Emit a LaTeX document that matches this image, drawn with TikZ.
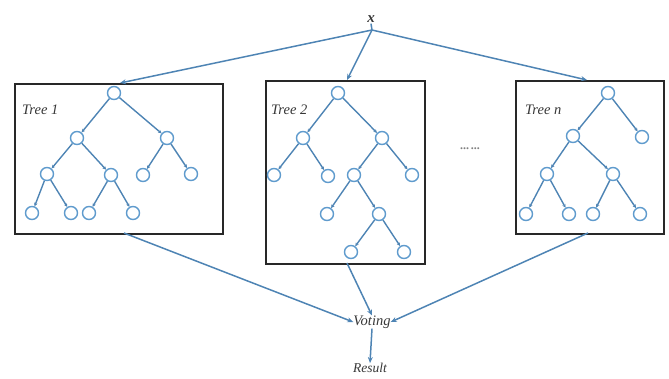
\documentclass[tikz,border=0pt]{standalone}
\usepackage{fontspec}
\setmainfont{Liberation Serif}
\usetikzlibrary{arrows.meta}
\definecolor{edgeblue}{RGB}{78,132,180}
\definecolor{nodeblue}{RGB}{95,155,205}
\definecolor{boxgray}{RGB}{40,40,40}
\definecolor{textgray}{RGB}{55,55,55}
\begin{document}
\begin{tikzpicture}[x=1pt,y=-1pt,
  tn/.style={circle, draw=nodeblue, line width=1.4pt, minimum size=13pt, inner sep=0pt, fill=white},
  te/.style={draw=edgeblue, line width=1.4pt, -{Stealth[length=3.5pt,width=3.5pt]}},
  treebox/.style={draw=boxgray, line width=2pt, inner sep=0pt, anchor=north west},
  conn/.style={draw=edgeblue, line width=1.5pt, -{Stealth[length=6pt,width=5pt]}},
  lab/.style={font=\fontsize{14.5}{14.5}\selectfont\itshape, text=textgray, inner sep=0pt},
  dots/.style={font=\fontsize{12}{12}\selectfont, text=black!50, inner sep=0pt}]
\useasboundingbox (0,0) rectangle (669,378);

% boxes
\node[treebox, minimum width=208pt, minimum height=150pt] (b1) at (14,83) {};
\node[treebox, minimum width=159pt, minimum height=183pt] (b2) at (265,80) {};
\node[treebox, minimum width=148pt, minimum height=153pt] (b3) at (515,80) {};

% labels
\node[lab, anchor=west] (l1) at (22,110) {Tree 1};
\node[lab, anchor=west] (l2) at (271,110) {Tree 2};
\node[lab, anchor=west] (l3) at (525,110) {Tree n};
\node[dots] (dd) at (470,149) {\textbf{...}\,\textbf{...}};

% top / bottom
\node[font=\fontsize{15}{15}\selectfont\bfseries\itshape, text=textgray, inner sep=1pt] (x) at (371,19) {x};
\node[lab] (vote) at (372,322) {Voting};
\node[lab, font=\fontsize{13.5}{13.5}\selectfont\itshape] (res) at (370,368) {Result};

% entry/exit points
\coordinate (in1) at (120,83);
\coordinate (in2) at (347,80);
\coordinate (in3) at (587,80);
\coordinate (out1) at (124,233);
\coordinate (out2) at (347,263);
\coordinate (out3) at (588,233);
\coordinate (apex) at (372,30);

% tree 1
\node[tn] (a0) at (114,93) {};
\node[tn] (a1) at (77,138) {};
\node[tn] (a2) at (167,138) {};
\node[tn] (a3) at (47,174) {};
\node[tn] (a4) at (111,175) {};
\node[tn] (a5) at (143,175) {};
\node[tn] (a6) at (191,174) {};
\node[tn] (a7) at (32,213) {};
\node[tn] (a8) at (71,213) {};
\node[tn] (a9) at (89,213) {};
\node[tn] (a10) at (133,213) {};
\draw[te] (a0) -- (a1); \draw[te] (a0) -- (a2);
\draw[te] (a1) -- (a3); \draw[te] (a1) -- (a4);
\draw[te] (a2) -- (a5); \draw[te] (a2) -- (a6);
\draw[te] (a3) -- (a7); \draw[te] (a3) -- (a8);
\draw[te] (a4) -- (a9); \draw[te] (a4) -- (a10);

% tree 2
\node[tn] (c0) at (338,93) {};
\node[tn] (c1) at (303,138) {};
\node[tn] (c2) at (382,138) {};
\node[tn] (c3) at (274,175) {};
\node[tn] (c4) at (328,176) {};
\node[tn] (c5) at (354,175) {};
\node[tn] (c6) at (412,175) {};
\node[tn] (c7) at (327,214) {};
\node[tn] (c8) at (379,214) {};
\node[tn] (c9) at (351,252) {};
\node[tn] (c10) at (404,252) {};
\draw[te] (c0) -- (c1); \draw[te] (c0) -- (c2);
\draw[te] (c1) -- (c3); \draw[te] (c1) -- (c4);
\draw[te] (c2) -- (c5); \draw[te] (c2) -- (c6);
\draw[te] (c5) -- (c7); \draw[te] (c5) -- (c8);
\draw[te] (c8) -- (c9); \draw[te] (c8) -- (c10);

% tree n
\node[tn] (d0) at (608,93) {};
\node[tn] (d1) at (573,136) {};
\node[tn] (d2) at (642,137) {};
\node[tn] (d3) at (547,174) {};
\node[tn] (d4) at (613,174) {};
\node[tn] (d5) at (526,214) {};
\node[tn] (d6) at (569,214) {};
\node[tn] (d7) at (593,214) {};
\node[tn] (d8) at (640,214) {};
\draw[te] (d0) -- (d1); \draw[te] (d0) -- (d2);
\draw[te] (d1) -- (d3); \draw[te] (d1) -- (d4);
\draw[te] (d3) -- (d5); \draw[te] (d3) -- (d6);
\draw[te] (d4) -- (d7); \draw[te] (d4) -- (d8);

% connectors
\draw[draw=edgeblue, line width=1.5pt] (x.south) -- (apex);
\draw[conn] (apex) -- (in1);
\draw[conn] (apex) -- (in2);
\draw[conn] (apex) -- (in3);
\draw[conn] (out1) -- (vote.west);
\draw[conn] (out2) -- (vote.north);
\draw[conn] (out3) -- (vote.east);
\draw[conn] (vote.south) -- (res.north);
\end{tikzpicture}
\end{document}
